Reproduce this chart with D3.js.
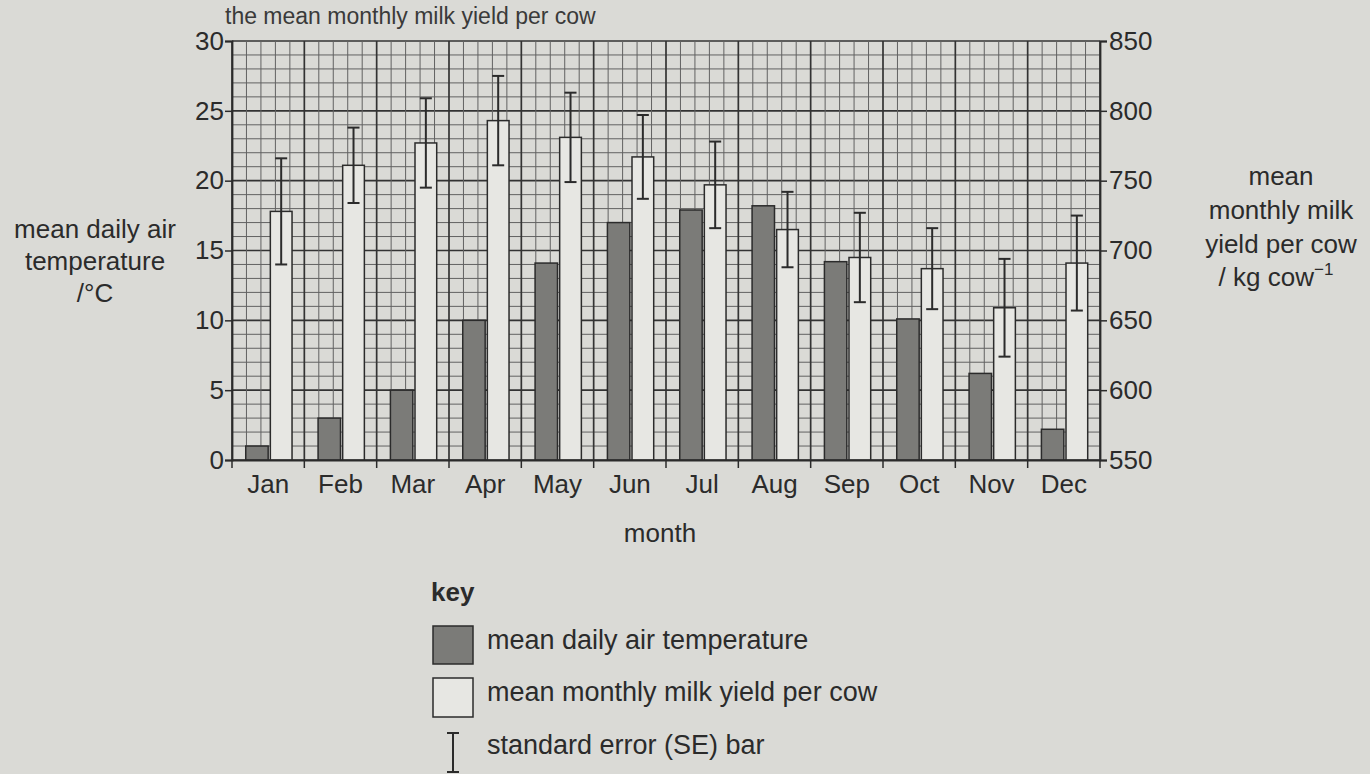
<!DOCTYPE html>
<html>
<head>
<meta charset="utf-8">
<script src="https://cdn.jsdelivr.net/npm/d3@7"></script>
<style>
  body { margin: 0; background: #dadad6; }
  svg { display: block; font-family: "Liberation Sans", Arial, sans-serif; }
</style>
</head>
<body>
<div id="chart"></div>
<script>
// data
let months = ["Jan", "Feb", "Mar", "Apr", "May", "Jun", "Jul", "Aug", "Sep", "Oct", "Nov", "Dec"];
let temperature = [1.0, 3.0, 5.0, 10.0, 14.1, 17.0, 17.9, 18.2, 14.2, 10.1, 6.2, 2.2];
let milkYield = [728, 761, 777, 793, 781, 767, 747, 715, 695, 687, 659, 691];
let milkSE = [38, 27, 32, 32, 32, 30, 31, 27, 32, 29, 35, 34];
let tempTicks = [0, 5, 10, 15, 20, 25, 30];
let milkTicks = [550, 600, 650, 700, 750, 800, 850];

let svgWidth = 1370;
let svgHeight = 774;

let margin = { top: 41, right: 270, bottom: 314, left: 232 };
let width = svgWidth - margin.left - margin.right;
let height = svgHeight - margin.top - margin.bottom;

let ink = "#2b2b2b";
let fontSize = "26px";

let svg = d3.select("#chart")
  .append("svg")
  .attr("width", svgWidth)
  .attr("height", svgHeight);

// question text at the top of the page (cropped in the photo)
svg.append("text")
  .attr("x", 225)
  .attr("y", 24)
  .attr("font-size", "23px")
  .attr("fill", "#3a3a3a")
  .text("the mean monthly milk yield per cow");

let chartGroup = svg.append("g")
  .attr("transform", `translate(${margin.left}, ${margin.top})`);

// scales
let xScale = d3.scaleBand()
  .domain(months)
  .range([0, width])
  .padding(0);

let yTemp = d3.scaleLinear()
  .domain([0, 30])
  .range([height, 0]);

let yMilk = d3.scaleLinear()
  .domain([550, 850])
  .range([height, 0]);

let bw = xScale.bandwidth();

// graph paper: minor lines every 1 degC and every fifth of a month
let minorY = d3.range(0, 31, 1);
let minorX = d3.range(0, months.length * 5 + 1).map(i => i * bw / 5);

let grid = chartGroup.append("g");

grid.selectAll(".minor-h")
  .data(minorY)
  .enter()
  .append("line")
  .attr("x1", 0)
  .attr("x2", width)
  .attr("y1", d => yTemp(d))
  .attr("y2", d => yTemp(d))
  .attr("stroke", d => d % 5 === 0 ? "#333" : "#626262")
  .attr("stroke-width", d => d % 5 === 0 ? 1.7 : 1);

grid.selectAll(".minor-v")
  .data(minorX)
  .enter()
  .append("line")
  .attr("y1", 0)
  .attr("y2", height)
  .attr("x1", d => d)
  .attr("x2", d => d)
  .attr("stroke", (d, i) => i % 5 === 0 ? "#333" : "#626262")
  .attr("stroke-width", (d, i) => i % 5 === 0 ? 1.7 : 1);

// bars
let monthGroups = chartGroup.selectAll(".month")
  .data(months)
  .enter()
  .append("g")
  .attr("transform", d => `translate(${xScale(d)}, 0)`);

monthGroups.append("rect")
  .attr("x", bw * 0.19)
  .attr("width", bw * 0.31)
  .attr("y", (d, i) => yTemp(temperature[i]))
  .attr("height", (d, i) => height - yTemp(temperature[i]))
  .attr("fill", "#7b7b78")
  .attr("stroke", ink)
  .attr("stroke-width", 1.5);

monthGroups.append("rect")
  .attr("x", bw * 0.53)
  .attr("width", bw * 0.3)
  .attr("y", (d, i) => yMilk(milkYield[i]))
  .attr("height", (d, i) => height - yMilk(milkYield[i]))
  .attr("fill", "#e7e7e3")
  .attr("stroke", ink)
  .attr("stroke-width", 1.5);

// standard error bars
let ex = bw * 0.68;
let cap = 6;

monthGroups.append("line")
  .attr("x1", ex)
  .attr("x2", ex)
  .attr("y1", (d, i) => yMilk(milkYield[i] + milkSE[i]))
  .attr("y2", (d, i) => yMilk(milkYield[i] - milkSE[i]))
  .attr("stroke", ink)
  .attr("stroke-width", 2);

monthGroups.append("line")
  .attr("x1", ex - cap)
  .attr("x2", ex + cap)
  .attr("y1", (d, i) => yMilk(milkYield[i] + milkSE[i]))
  .attr("y2", (d, i) => yMilk(milkYield[i] + milkSE[i]))
  .attr("stroke", ink)
  .attr("stroke-width", 2);

monthGroups.append("line")
  .attr("x1", ex - cap)
  .attr("x2", ex + cap)
  .attr("y1", (d, i) => yMilk(milkYield[i] - milkSE[i]))
  .attr("y2", (d, i) => yMilk(milkYield[i] - milkSE[i]))
  .attr("stroke", ink)
  .attr("stroke-width", 2);

// axes
let leftAxis = d3.axisLeft(yTemp).tickValues(tempTicks).tickSize(7).tickPadding(1);
let rightAxis = d3.axisRight(yMilk).tickValues(milkTicks).tickSize(7).tickPadding(2);
let bottomAxis = d3.axisBottom(xScale).tickSize(0).tickPadding(15);

function styleAxis(g) {
  g.select(".domain").attr("stroke", ink).attr("stroke-width", 1.8);
  g.selectAll(".tick line").attr("stroke", ink).attr("stroke-width", 1.5);
  g.selectAll(".tick text")
    .attr("fill", ink)
    .attr("font-size", fontSize)
    .attr("font-family", "Liberation Sans, Arial, sans-serif");
}

chartGroup.append("g").call(leftAxis).call(styleAxis);

chartGroup.append("g")
  .attr("transform", `translate(${width}, 0)`)
  .call(rightAxis)
  .call(styleAxis);

chartGroup.append("g")
  .attr("transform", `translate(0, ${height})`)
  .call(bottomAxis)
  .call(styleAxis);

// tick marks between months
chartGroup.append("g")
  .selectAll("line")
  .data(d3.range(0, months.length + 1))
  .enter()
  .append("line")
  .attr("x1", d => d * bw)
  .attr("x2", d => d * bw)
  .attr("y1", height)
  .attr("y2", height + 8)
  .attr("stroke", ink)
  .attr("stroke-width", 1.5);

// axis titles
let leftTitle = svg.append("text")
  .attr("text-anchor", "middle")
  .attr("font-size", fontSize)
  .attr("fill", ink);
["mean daily air", "temperature", "/\u00b0C"].forEach((t, i) => {
  leftTitle.append("tspan").attr("x", 95).attr("y", 238 + i * 32).text(t);
});

let rightTitle = svg.append("text")
  .attr("text-anchor", "middle")
  .attr("font-size", fontSize)
  .attr("fill", ink);
["mean", "monthly milk", "yield per cow"].forEach((t, i) => {
  rightTitle.append("tspan").attr("x", 1281).attr("y", 185 + i * 34).text(t);
});
rightTitle.append("tspan").attr("x", 1276).attr("y", 286).text("/ kg cow");
rightTitle.append("tspan").attr("font-size", "17px").attr("dy", -11).text("\u22121");

svg.append("text")
  .attr("x", margin.left + width / 2 - 6)
  .attr("y", 542)
  .attr("text-anchor", "middle")
  .attr("font-size", fontSize)
  .attr("fill", ink)
  .text("month");

// key
let key = svg.append("g");
let keySize = "27px";

key.append("text")
  .attr("x", 431)
  .attr("y", 601)
  .attr("font-size", fontSize)
  .attr("font-weight", "bold")
  .attr("fill", ink)
  .text("key");

key.append("rect")
  .attr("x", 433).attr("y", 626).attr("width", 40).attr("height", 38)
  .attr("fill", "#7b7b78").attr("stroke", ink).attr("stroke-width", 1.5);

key.append("text")
  .attr("x", 487).attr("y", 649)
  .attr("font-size", keySize).attr("fill", ink)
  .text("mean daily air temperature");

key.append("rect")
  .attr("x", 433).attr("y", 678).attr("width", 40).attr("height", 39)
  .attr("fill", "#e7e7e3").attr("stroke", ink).attr("stroke-width", 1.5);

key.append("text")
  .attr("x", 487).attr("y", 701)
  .attr("font-size", keySize).attr("fill", ink)
  .text("mean monthly milk yield per cow");

key.append("line")
  .attr("x1", 453).attr("x2", 453).attr("y1", 733).attr("y2", 772)
  .attr("stroke", ink).attr("stroke-width", 2);
key.append("line")
  .attr("x1", 447).attr("x2", 459).attr("y1", 733).attr("y2", 733)
  .attr("stroke", ink).attr("stroke-width", 2);
key.append("line")
  .attr("x1", 447).attr("x2", 459).attr("y1", 772).attr("y2", 772)
  .attr("stroke", ink).attr("stroke-width", 2);

key.append("text")
  .attr("x", 487).attr("y", 754)
  .attr("font-size", keySize).attr("fill", ink)
  .text("standard error (SE) bar");
</script>
</body>
</html>
